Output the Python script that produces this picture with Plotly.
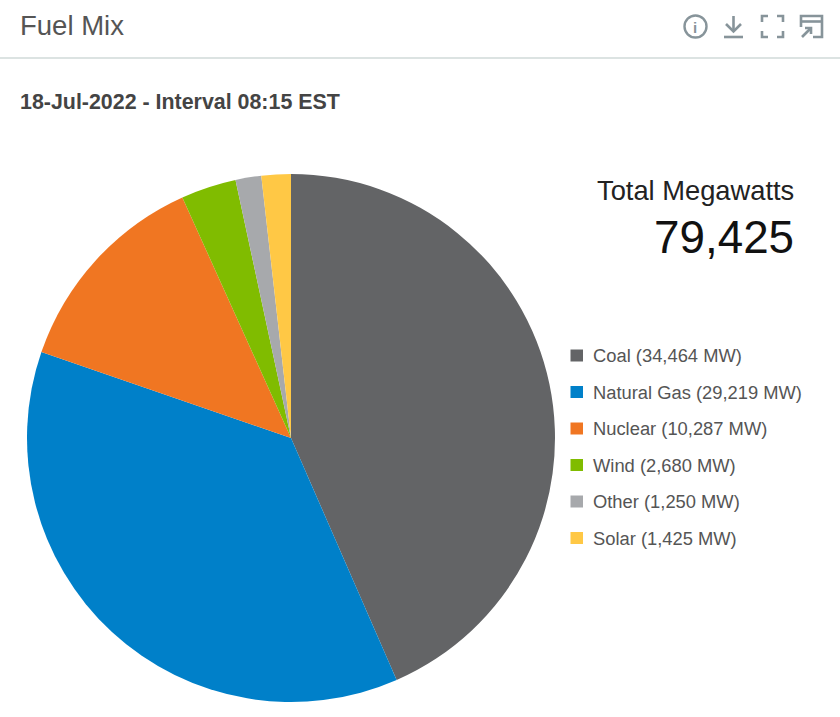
import plotly.graph_objects as go

W = 840
H = 717

fuels = ['Coal', 'Natural Gas', 'Nuclear', 'Wind', 'Other', 'Solar']
megawatts = [34464, 29219, 10287, 2680, 1250, 1425]
legend_mw = ['34,464', '29,219', '10,287', '2,680', '1,250', '1,425']
colors = ['#636466', '#0080C9', '#F07622', '#80BC00', '#A7A9AC', '#FFC845']
total_label = '79,425'

FONT = 'Liberation Sans'
ICON = '#87949A'


def px(x):
    return x / W


def py(y):
    return 1 - y / H


def path(points, close=False):
    d = 'M' + ' L'.join(f'{px(x):.5f},{py(y):.5f}' for x, y in points)
    return d + (' Z' if close else '')


def text(x, y, s, size, color, anchor='left', bold=False):
    return dict(x=px(x), y=py(y), xref='paper', yref='paper', text=f'<b>{s}</b>' if bold else s,
                showarrow=False, xanchor=anchor, yanchor='middle',
                font=dict(family=FONT, size=size, color=color))


def stroke(points, width=2.6):
    return dict(type='path', path=path(points), xref='paper', yref='paper',
                line=dict(color=ICON, width=width))


fig = go.Figure(data=[go.Pie(
    labels=fuels,
    values=megawatts,
    sort=False,
    direction='clockwise',
    rotation=0,
    textinfo='none',
    marker=dict(colors=colors, line=dict(width=0)),
    domain=dict(x=[px(27), px(555)], y=[py(702), py(174)]),
    showlegend=False)])

annotations = [
    text(18, 26, 'Fuel Mix', 27.5, '#555555'),
    text(18, 102, '18-Jul-2022 - Interval 08:15 EST', 21.4, '#444444', bold=True),
    text(796, 191, 'Total Megawatts', 27.3, '#222222', anchor='right'),
    text(796, 238, total_label, 45.8, '#111111', anchor='right'),
    text(695, 27, 'i', 15, ICON, anchor='center', bold=True),
]

# header rule
shapes = [dict(type='line', xref='paper', yref='paper', x0=0, x1=1, y0=py(58), y1=py(58),
               line=dict(color='#D0DAD8', width=1.5))]

# header icons: info, download, fullscreen, cast
shapes.append(dict(type='circle', xref='paper', yref='paper', x0=px(684.5), x1=px(706.5),
                   y0=py(37.5), y1=py(15.5), line=dict(color=ICON, width=2.4)))
shapes += [
    stroke([(733.5, 16), (733.5, 31)]),
    stroke([(726, 24), (733.5, 31.5), (741, 24)]),
    stroke([(724, 37), (743, 37)]),
    stroke([(762, 22), (762, 16), (768, 16)]),
    stroke([(777, 16), (783, 16), (783, 22)]),
    stroke([(762, 31), (762, 37), (768, 37)]),
    stroke([(777, 37), (783, 37), (783, 31)]),
    stroke([(801, 27), (801, 16), (822, 16), (822, 37), (813, 37)]),
    stroke([(801, 21.5), (822, 21.5)]),
    stroke([(802, 37), (811, 28)]),
    stroke([(805, 28), (811, 28), (811, 34)]),
]

# legend drawn by hand, plotly's own cannot space rows this far apart
row_y = [355.5, 392, 428.5, 465, 501.5, 538]
for fuel, mw, color, y in zip(fuels, legend_mw, colors, row_y):
    shapes.append(dict(type='rect', xref='paper', yref='paper', x0=px(570.5), x1=px(583),
                       y0=py(y + 6), y1=py(y - 6), fillcolor=color, line=dict(width=0)))
    annotations.append(text(591, y, f'{fuel} ({mw} MW)', 18.35, '#555555'))

fig.update_layout(
    width=W,
    height=H,
    margin=dict(l=0, r=0, t=0, b=0),
    paper_bgcolor='white',
    annotations=annotations,
    shapes=shapes)

# browser default body margin would push the whole figure 8px off
fig.write_html('out.html', config=dict(displayModeBar=False),
               post_script="document.body.style.margin='0';")
